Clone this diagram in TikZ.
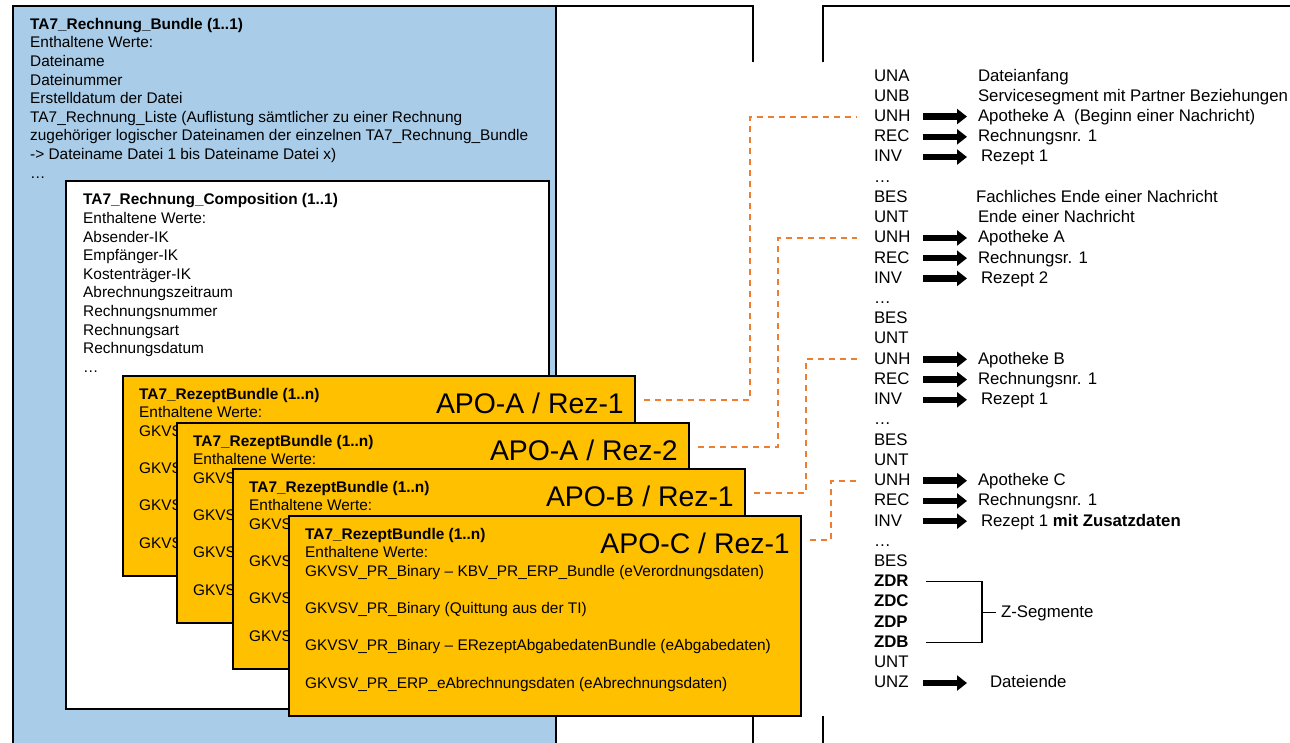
\documentclass[tikz,border=0pt]{standalone}
\usepackage{fontspec}
\setmainfont{Liberation Sans}
\usetikzlibrary{arrows.meta, positioning}
\definecolor{rgBlue}{HTML}{A9CCE8}
\definecolor{rgOrange}{HTML}{FFC000}
\definecolor{rgDash}{HTML}{ED7D31}
\newcommand{\rzinhalt}{\textbf{TA7\_RezeptBundle (1..n)}\\Enthaltene Werte:\\
  GKVSV\_PR\_Binary – KBV\_PR\_ERP\_Bundle (eVerordnungsdaten)\\[18.6pt]
  GKVSV\_PR\_Binary (Quittung aus der TI)\\[18.6pt]
  GKVSV\_PR\_Binary – ERezeptAbgabedatenBundle (eAbgabedaten)\\[18.6pt]
  GKVSV\_PR\_ERP\_eAbrechnungsdaten (eAbrechnungsdaten)}
\tikzset{
  bundlebox/.style={draw, line width=1.5pt, fill=rgBlue, anchor=north west,
                    inner sep=0pt, minimum width=543pt, minimum height=760pt},
  compbox/.style={draw, line width=1.5pt, fill=white, anchor=north west,
                  inner sep=0pt, minimum width=483pt, minimum height=528pt},
  rzbox/.style={draw, line width=2pt, fill=rgOrange, anchor=north west,
                inner sep=0pt, minimum width=512pt, minimum height=200pt},
  boxtext/.style={anchor=north west, align=left, inner sep=0pt,
                  font=\fontsize{15.4}{18.6}\selectfont},
  rzlabel/.style={anchor=base east, inner sep=0pt, font=\fontsize{28.4}{30}\selectfont},
  segcode/.style={inner sep=0pt, outer sep=0pt, text width=44pt, align=left,
                  text height=15pt, text depth=5.23pt, font=\fontsize{16.8}{20}\selectfont},
  segdesc/.style={inner sep=0pt, outer sep=0pt, text height=15pt, text depth=5.23pt,
                  font=\fontsize{16.8}{20}\selectfont},
  fatarrow/.style={-{Triangle[length=10pt, width=15pt]}, line width=6.5pt},
  dashlink/.style={rgDash, line width=1.9pt, dash pattern=on 6pt off 5pt},
  frameline/.style={line width=1.5pt},
  bracket/.style={line width=1.2pt},
}
\begin{document}
\begin{tikzpicture}[x=1pt, y=-1pt]
  \useasboundingbox (0,0) rectangle (1290,742);
  \clip (0,0) rectangle (1290,742);

  % Rahmen der Datei
  \draw[frameline] (555,6) -- (753,6) -- (753,62);
  \draw[frameline] (823,62) -- (823,6) -- (1295,6);
  \draw[frameline] (753,716) -- (753,745);
  \draw[frameline] (823,716) -- (823,745);

  % TA7_Rechnung_Bundle
  \node[bundlebox] (bundle) at (12,5) {};
  \node[boxtext] (bundletxt) at ([shift={(18,13)}]bundle.north west)
    {\textbf{TA7\_Rechnung\_Bundle (1..1)}\\Enthaltene Werte:\\Dateiname\\Dateinummer\\
     Erstelldatum der Datei\\
     TA7\_Rechnung\_Liste (Auflistung sämtlicher zu einer Rechnung\\
     zugehöriger logischer Dateinamen der einzelnen TA7\_Rechnung\_Bundle\\
     -> Dateiname Datei 1 bis Dateiname Datei x)\\…};

  % TA7_Rechnung_Composition
  \node[compbox] (comp) at (65,180) {};
  \node[boxtext] (comptxt) at ([shift={(18,13.5)}]comp.north west)
    {\textbf{TA7\_Rechnung\_Composition (1..1)}\\Enthaltene Werte:\\Absender-IK\\
     Empfänger-IK\\Kostenträger-IK\\Abrechnungszeitraum\\Rechnungsnummer\\
     Rechnungsart\\Rechnungsdatum\\…};

  % TA7_RezeptBundle
  \node[rzbox] (rb1) at (122,375) {};
  \node[boxtext] (rt1) at ([shift={(17,13)}]rb1.north west) {\rzinhalt};
  \node[rzlabel] (rl1) at ([shift={(-12,38)}]rb1.north east) {APO-A / Rez-1};

  \node[rzbox] (rb2) at (176,422) {};
  \node[boxtext] (rt2) at ([shift={(17,13)}]rb2.north west) {\rzinhalt};
  \node[rzlabel] (rl2) at ([shift={(-12,38)}]rb2.north east) {APO-A / Rez-2};

  \node[rzbox] (rb3) at (232,468) {};
  \node[boxtext] (rt3) at ([shift={(17,13)}]rb3.north west) {\rzinhalt};
  \node[rzlabel] (rl3) at ([shift={(-12,38)}]rb3.north east) {APO-B / Rez-1};

  \node[rzbox] (rb4) at (288,515) {};
  \node[boxtext] (rt4) at ([shift={(17,13)}]rb4.north west) {\rzinhalt};
  \node[rzlabel] (rl4) at ([shift={(-12,38)}]rb4.north east) {APO-C / Rez-1};

  % Segmente der Datei
  \node[segcode, anchor=base west] (una) at (874,81) {UNA};
  \node[segcode, below=0pt of una] (unb) {UNB};
  \node[segcode, below=0pt of unb] (unh1) {UNH};
  \node[segcode, below=0pt of unh1] (rec1) {REC};
  \node[segcode, below=0pt of rec1] (inv1) {INV};
  \node[segcode, below=0pt of inv1] (dots1) {…};
  \node[segcode, below=0pt of dots1] (bes1) {BES};
  \node[segcode, below=0pt of bes1] (unt1) {UNT};
  \node[segcode, below=0pt of unt1] (unh2) {UNH};
  \node[segcode, below=0pt of unh2] (rec2) {REC};
  \node[segcode, below=0pt of rec2] (inv2) {INV};
  \node[segcode, below=0pt of inv2] (dots2) {…};
  \node[segcode, below=0pt of dots2] (bes2) {BES};
  \node[segcode, below=0pt of bes2] (unt2) {UNT};
  \node[segcode, below=0pt of unt2] (unh3) {UNH};
  \node[segcode, below=0pt of unh3] (rec3) {REC};
  \node[segcode, below=0pt of rec3] (inv3) {INV};
  \node[segcode, below=0pt of inv3] (dots3) {…};
  \node[segcode, below=0pt of dots3] (bes3) {BES};
  \node[segcode, below=0pt of bes3] (unt3) {UNT};
  \node[segcode, below=0pt of unt3] (unh4) {UNH};
  \node[segcode, below=0pt of unh4] (rec4) {REC};
  \node[segcode, below=0pt of rec4] (inv4) {INV};
  \node[segcode, below=0pt of inv4] (dots4) {…};
  \node[segcode, below=0pt of dots4] (bes4) {BES};
  \node[segcode, below=0pt of bes4, font=\fontsize{16.8}{20}\selectfont\bfseries] (zdr) {ZDR};
  \node[segcode, below=0pt of zdr, font=\fontsize{16.8}{20}\selectfont\bfseries] (zdc) {ZDC};
  \node[segcode, below=0pt of zdc, font=\fontsize{16.8}{20}\selectfont\bfseries] (zdp) {ZDP};
  \node[segcode, below=0pt of zdp, font=\fontsize{16.8}{20}\selectfont\bfseries] (zdb) {ZDB};
  \node[segcode, below=0pt of zdb] (unt4) {UNT};
  \node[segcode, below=0pt of unt4] (unz) {UNZ};

  \node[segdesc, right=60pt of una] (dAnfang) {Dateianfang};
  \node[segdesc, right=60pt of unb] (dService) {Servicesegment mit Partner Beziehungen};
  \node[segdesc, right=60pt of unh1] (dApoA1) {Apotheke A\ \ (Beginn einer Nachricht)};
  \node[segdesc, right=60pt of rec1] (dRech1) {Rechnungsnr. 1};
  \node[segdesc, right=63pt of inv1] (dRez1) {Rezept 1};
  \node[segdesc, right=58pt of bes1] (dFachEnde) {Fachliches Ende einer Nachricht};
  \node[segdesc, right=60pt of unt1] (dEnde) {Ende einer Nachricht};
  \node[segdesc, right=60pt of unh2] (dApoA2) {Apotheke A};
  \node[segdesc, right=60pt of rec2] (dRech2) {Rechnungsr. 1};
  \node[segdesc, right=63pt of inv2] (dRez2) {Rezept 2};
  \node[segdesc, right=60pt of unh3] (dApoB) {Apotheke B};
  \node[segdesc, right=60pt of rec3] (dRech3) {Rechnungsnr. 1};
  \node[segdesc, right=63pt of inv3] (dRez3) {Rezept 1};
  \node[segdesc, right=60pt of unh4] (dApoC) {Apotheke C};
  \node[segdesc, right=60pt of rec4] (dRech4) {Rechnungsnr. 1};
  \node[segdesc, right=63pt of inv4] (dRez4) {Rezept 1 \textbf{mit Zusatzdaten}};
  \node[segdesc, right=72pt of unz] (dDateiende) {Dateiende};

  \draw[fatarrow] ([xshift=5pt]unh1.east) -- ([xshift=-11pt]dApoA1.west);
  \draw[fatarrow] ([xshift=5pt]rec1.east) -- ([xshift=-11pt]dRech1.west);
  \draw[fatarrow] ([xshift=5pt]inv1.east) -- ([xshift=-14pt]dRez1.west);
  \draw[fatarrow] ([xshift=5pt]unh2.east) -- ([xshift=-11pt]dApoA2.west);
  \draw[fatarrow] ([xshift=5pt]rec2.east) -- ([xshift=-11pt]dRech2.west);
  \draw[fatarrow] ([xshift=5pt]inv2.east) -- ([xshift=-14pt]dRez2.west);
  \draw[fatarrow] ([xshift=5pt]unh3.east) -- ([xshift=-11pt]dApoB.west);
  \draw[fatarrow] ([xshift=5pt]rec3.east) -- ([xshift=-11pt]dRech3.west);
  \draw[fatarrow] ([xshift=5pt]inv3.east) -- ([xshift=-14pt]dRez3.west);
  \draw[fatarrow] ([xshift=5pt]unh4.east) -- ([xshift=-11pt]dApoC.west);
  \draw[fatarrow] ([xshift=5pt]rec4.east) -- ([xshift=-11pt]dRech4.west);
  \draw[fatarrow] ([xshift=5pt]inv4.east) -- ([xshift=-14pt]dRez4.west);
  \draw[fatarrow] ([xshift=5pt]unz.east) -- ([xshift=-23pt]dDateiende.west);

  % Z-Segmente
  \draw[bracket] ([xshift=8pt]zdr.east) -- ([xshift=64pt]zdr.east)
    -- ([xshift=64pt]zdb.east) -- ([xshift=8pt]zdb.east);
  \path ([xshift=64pt]zdr.east) -- coordinate[midway] (zmid) ([xshift=64pt]zdb.east);
  \node[segdesc, right=19pt of zmid] (zseg) {Z-Segmente};
  \draw[bracket] (zmid) -- ([xshift=-5pt]zseg.west);

  % Zuordnung Rezept -> Nachricht
  \draw[dashlink] ([shift={(8,25)}]rb1.north east) -- ++(106,0) |- ([xshift=-17pt]unh1.west);
  \draw[dashlink] ([shift={(8,25)}]rb2.north east) -- ++(80,0) |- ([xshift=-17pt]unh2.west);
  \draw[dashlink] ([shift={(8,25)}]rb3.north east) -- ++(52,0) |- ([xshift=-17pt]unh3.west);
  \draw[dashlink] ([shift={(8,25)}]rb4.north east) -- ++(21,0) |- ([xshift=-17pt]unh4.west);
\end{tikzpicture}
\end{document}
